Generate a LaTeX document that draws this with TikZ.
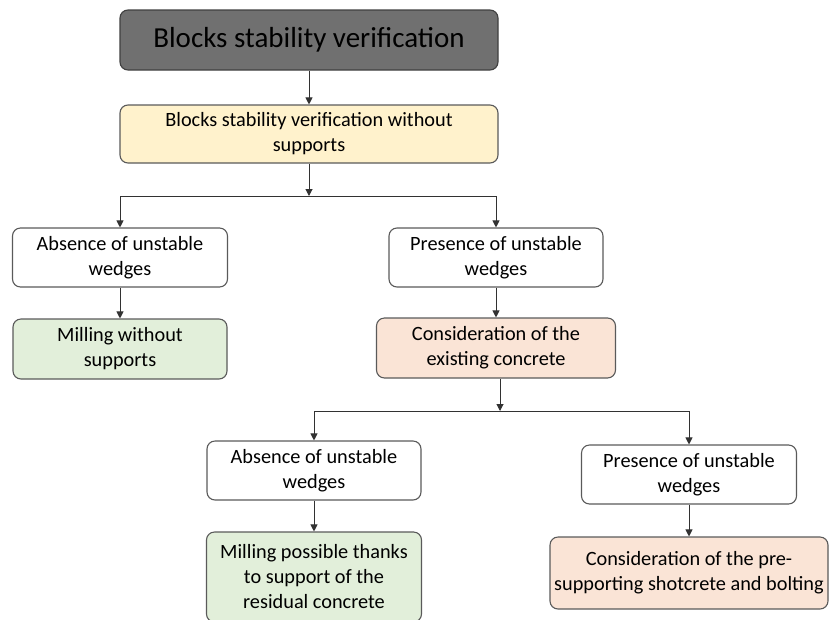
\documentclass[tikz,border=0pt]{standalone}
\usepackage{fontspec}
\setmainfont{Carlito}
\usetikzlibrary{arrows.meta}

\definecolor{topgray}{RGB}{112,112,112}
\definecolor{lightyellow}{RGB}{255,242,204}
\definecolor{lightgreen}{RGB}{226,239,218}
\definecolor{lightpeach}{RGB}{250,228,214}
\definecolor{edgegray}{RGB}{90,90,90}
\definecolor{arrgray}{RGB}{50,50,50}

\begin{document}
\begin{tikzpicture}[x=1pt, y=-1pt,
        box/.style={draw=edgegray, line width=1.1pt, rounded corners=8pt,
            align=center, inner sep=0pt,
            font=\fontsize{20.3}{25}\selectfont},
        arr/.style={draw=arrgray, line width=1pt,
            -{Triangle[width=7pt,length=7pt]}}]
        % page frame
        \useasboundingbox (0,0) rectangle (829,619);

        % top level
        \node [box, fill=topgray, draw=black!75, minimum width=378pt,
            minimum height=60pt, font=\fontsize{29}{34}\selectfont]
            (verif) at (309,40) {Blocks stability verification};
        \node [box, fill=lightyellow, minimum width=378pt, minimum height=58pt]
            (nosupp) at (309,134)
            {Blocks stability verification without\\supports};

        % first split
        \coordinate (split1) at (309,196);
        \node [box, fill=white, minimum width=215pt, minimum height=59pt]
            (absent) at (120,257.5) {Absence of unstable\\wedges};
        \node [box, fill=lightgreen, minimum width=214pt, minimum height=60pt]
            (milling) at (120,349) {Milling without\\supports};
        \node [box, fill=white, minimum width=214pt, minimum height=59pt]
            (present) at (496,257.5) {Presence of unstable\\wedges};
        \node [box, fill=lightpeach, minimum width=239pt, minimum height=60pt]
            (concrete) at (496,348) {Consideration of the\\existing concrete};

        % second split
        \coordinate (split2) at (500,411);
        \node [box, fill=white, minimum width=214pt, minimum height=59pt]
            (absent2) at (314,470.5) {Absence of unstable\\wedges};
        \node [box, fill=lightgreen, minimum width=215pt, minimum height=90pt]
            (residual) at (314,577)
            {Milling possible thanks\\to support of the\\residual concrete};
        \node [box, fill=white, minimum width=215pt, minimum height=59pt]
            (present2) at (689,474.5) {Presence of unstable\\wedges};
        \node [box, fill=lightpeach, minimum width=278pt, minimum height=72pt]
            (shotcrete) at (689,573)
            {Consideration of the pre-\\supporting shotcrete and bolting};

        % connectors
        \draw [arr] (verif) -- (nosupp);
        \draw [arr] (nosupp) -- (split1);
        \draw [arr] (split1) -| (absent);
        \draw [arr] (split1) -| (present);
        \draw [arr] (absent) -- (milling);
        \draw [arr] (present) -- (concrete);

        \draw [arr] (concrete.south -| split2) -- (split2);
        \draw [arr] (split2) -| (absent2);
        \draw [arr] (split2) -| (present2);
        \draw [arr] (absent2) -- (residual);
        \draw [arr] (present2) -- (shotcrete);

    \end{tikzpicture}
\end{document}
